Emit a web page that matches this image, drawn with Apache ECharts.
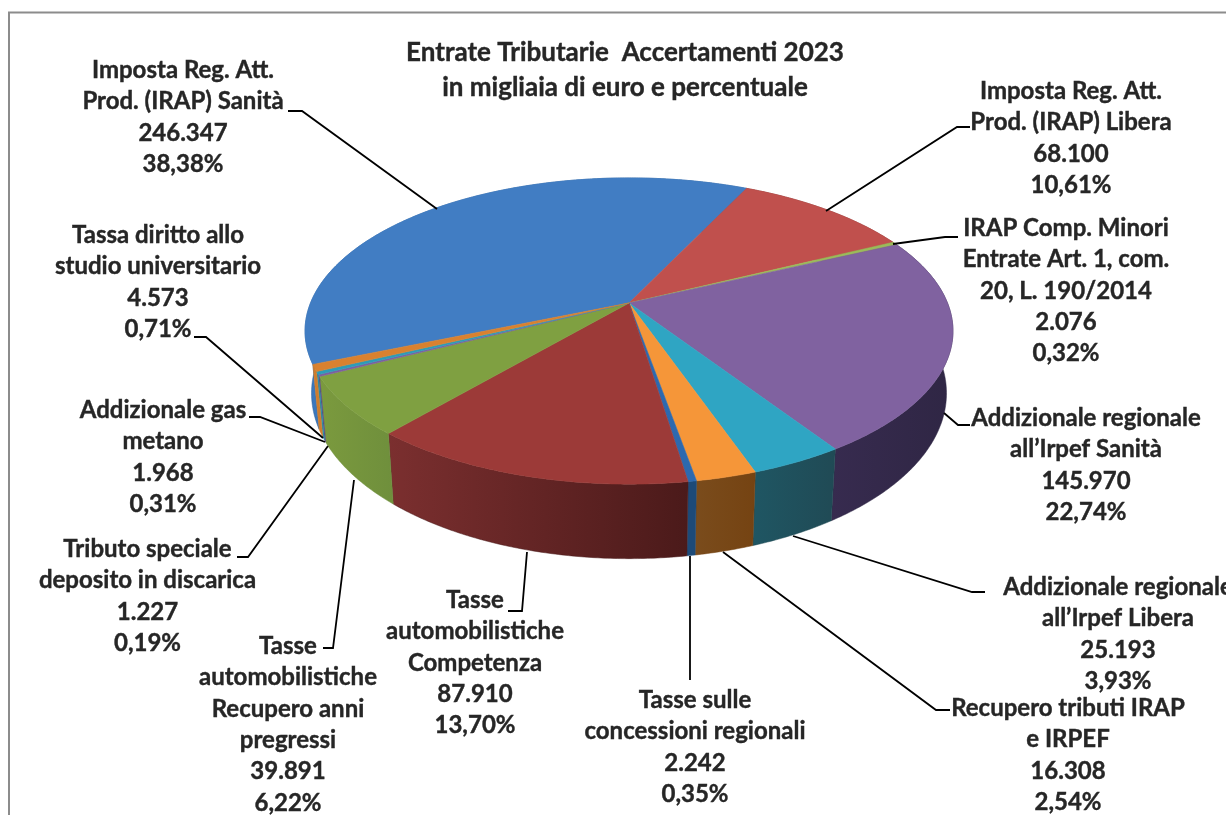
<!DOCTYPE html>
<html>
<head>
<meta charset="utf-8">
<style>html,body{margin:0;padding:0;background:#fff;overflow:hidden}#c{width:1226px;height:815px}</style>
<script src="https://cdn.jsdelivr.net/npm/echarts@6/dist/echarts.min.js"></script>
</head>
<body>
<div id="c"></div>
<script>
// ---- data ----
const titleText = 'Entrate Tributarie  Accertamenti 2023\nin migliaia di euro e percentuale';
const categories = [
  'Imposta Reg. Att.\nProd. (IRAP) Sanità',
  'Imposta Reg. Att.\nProd. (IRAP) Libera',
  'IRAP Comp. Minori\nEntrate Art. 1, com.\n20, L. 190/2014',
  'Addizionale regionale\nall’Irpef Sanità',
  'Addizionale regionale\nall’Irpef Libera',
  'Recupero tributi IRAP\ne IRPEF',
  'Tasse sulle\nconcessioni regionali',
  'Tasse\nautomobilistiche\nCompetenza',
  'Tasse\nautomobilistiche\nRecupero anni\npregressi',
  'Tributo speciale\ndeposito in discarica',
  'Addizionale gas\nmetano',
  'Tassa diritto allo\nstudio universitario'
];
const values = [246347, 68100, 2076, 145970, 25193, 16308, 2242, 87910, 39891, 1227, 1968, 4573];
const shares = ['38,38%', '10,61%', '0,32%', '22,74%', '3,93%', '2,54%', '0,35%', '13,70%', '6,22%', '0,19%', '0,31%', '0,71%'];

// ---- styles ----
const topColors = ['#417dc3','#c0504d','#9bbb59','#8062a0','#2fa5c3','#f59639','#2d69af','#9c3a38','#7fa041','#7d5fa0','#2c9cb8','#d9812f'];
const wallColors = [
  ['#3b78bd','#2f5f96'],['#7a2f2d','#7a2f2d'],['#5f7535','#5f7535'],['#372b4f','#2f2644'],
  ['#1f5663','#204a55'],['#7a4c1c','#754312'],['#1d4a78','#1d4a78'],['#7b2f2f','#4b1a1a'],
  ['#7b9a3e','#6f8f3c'],['#5d4680','#5d4680'],['#2a8aa3','#2a8aa3'],['#cf7d2c','#cf7d2c']
];
// label block: centre x, first line y
const labelAt = [[183,70],[1071,91],[1066,228],[1086,418],[1118,587],[1068,708],[695,700],[475,600],[288,646],[147.5,549],[163,410],[158,235]];
// leader line points
const leaders = [
  [[437,209],[302,111],[288,111]],
  [[826,211],[957,127],[970,127]],
  [[893,244],[945,237],[958,237]],
  [[944,413],[958,425],[970,425]],
  [[793,536],[972,592],[985,592]],
  [[723,552],[936,710],[950,710]],
  [[690,556],[690,680]],
  [[527,552],[522,611],[508,611]],
  [[354,480],[333,648],[323,648]],
  [[328,446],[248,557],[237,557]],
  [[325,442],[260,417],[249,417]],
  [[323,438],[206,337],[194,337]]
];
// ---- pie projection (tilted disc with perspective) ----
const cx = 629, cy = 303, a = 318.5, b = 148, k = 0.183;
const startDeg = -112.7, bottomShift = 60, bottomY = 1.08, bottomX = 0.98;
const total = values.reduce((s, v) => s + v, 0);
const cum = values.reduce((acc, v) => { acc.push(acc[acc.length - 1] + v); return acc; }, [0]);

function rim(deg) {
  const t = deg * Math.PI / 180, u = Math.sin(t), v = -Math.cos(t), s = 1 / (1 - k * v);
  return [cx + a * u * s, cy + b * v * s];
}
function low(p) { return [cx + (p[0] - cx) * bottomX, cy + bottomShift + (p[1] - cy) * bottomY]; }
function arc(d0, d1) {
  const n = Math.max(2, Math.ceil((d1 - d0) / 0.5)), pts = [];
  for (let j = 0; j <= n; j++) pts.push(rim(d0 + (d1 - d0) * j / n));
  return pts;
}
const FONT = 'bold 24px Lato';
function renderSlice(params, api) {
  const i = params.dataIndex;
  const d0 = startDeg + cum[i] / total * 360;
  const d1 = d0 + api.value(0) / total * 360;
  const top = arc(d0, d1);
  const wall = top.concat(top.slice().reverse().map(low));
  const kids = [];
  kids.push({
    type: 'polygon', z2: 1, shape: { points: wall },
    style: {
      fill: new echarts.graphic.LinearGradient(0, 0, 1, 0, [
        { offset: 0, color: wallColors[i][0] }, { offset: 1, color: wallColors[i][1] }
      ]),
      stroke: wallColors[i][1], lineWidth: 0.5
    }
  });
  kids.push({
    type: 'polygon', z2: 5, shape: { points: [[cx, cy]].concat(top) },
    style: { fill: topColors[i], stroke: topColors[i], lineWidth: 0.6 }
  });
  kids.push({
    type: 'polyline', z2: 8, shape: { points: leaders[i] },
    style: { fill: null, stroke: '#000', lineWidth: 1.8 }
  });
  const lines = categories[i].split('\n').concat([
    String(values[i]).replace(/\B(?=(\d{3})+$)/g, '.'), shares[i]
  ]);
  lines.forEach((t, j) => kids.push({
    type: 'text', z2: 10, x: labelAt[i][0], y: labelAt[i][1] + j * 31.4,
    style: { text: t, font: FONT, fill: '#262626', stroke: '#262626', lineWidth: 0.4, align: 'center', verticalAlign: 'middle' }
  }));
  return { type: 'group', children: kids };
}

const chart = echarts.init(document.getElementById('c'), null, { renderer: 'canvas' });
chart.setOption({
  backgroundColor: '#fff',
  animation: false,
  title: {
    text: titleText, left: 620, top: 30, textAlign: 'center',
    textStyle: { fontFamily: 'Lato', fontWeight: 'bold', fontSize: 26, lineHeight: 35, color: '#262626', textBorderColor: '#262626', textBorderWidth: 0.4 }
  },
  graphic: [{
    type: 'polyline', silent: true,
    shape: { points: [[9, 815], [9, 12.5], [1226, 12.5]] },
    style: { fill: null, stroke: '#8c8c8c', lineWidth: 2 }
  }],
  series: [{
    type: 'custom', coordinateSystem: 'none', silent: true,
    renderItem: renderSlice,
    data: values.map(v => [v])
  }]
});
</script>
</body>
</html>
